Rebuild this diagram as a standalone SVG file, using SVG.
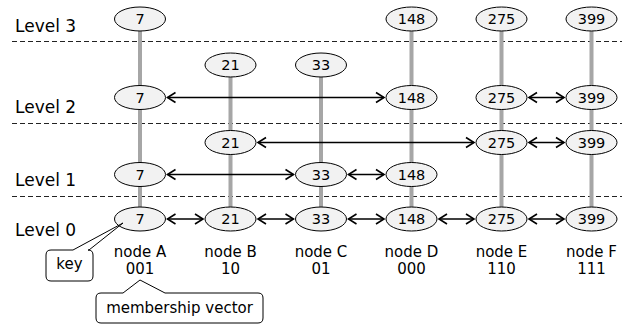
<svg xmlns="http://www.w3.org/2000/svg" width="622" height="325" viewBox="0 0 622 325">
<style>
text{font-family:"DejaVu Sans",Verdana,sans-serif;fill:#000}
.lvl{font-size:17px}
.k{font-size:14.5px;text-anchor:middle}
.lab{font-size:15px;text-anchor:middle}
ellipse{fill:#f2f2f2;stroke:#000;stroke-width:1}
.dash{stroke:#222;stroke-width:1;stroke-dasharray:5,3}
.pole{stroke:#a6a6a6;stroke-width:4}
.arr{stroke:#000;stroke-width:1.6;marker-start:url(#ah);marker-end:url(#ah)}
.call{fill:#fff;stroke:#000;stroke-width:1}
</style>
<defs>
<marker id="ah" markerUnits="userSpaceOnUse" markerWidth="12" markerHeight="12" refX="8" refY="5" orient="auto-start-reverse" overflow="visible">
<path d="M0,0 L8,5 L0,10" fill="none" stroke="#000" stroke-width="1.6"/>
</marker>
</defs>
<g id="levels">
<line class="dash" x1="12" y1="41.5" x2="622" y2="41.5"/>
<line class="dash" x1="12" y1="123.5" x2="622" y2="123.5"/>
<line class="dash" x1="12" y1="196.5" x2="622" y2="196.5"/>
<text class="lvl" x="15" y="31.5">Level 3</text>
<text class="lvl" x="15" y="112.5">Level 2</text>
<text class="lvl" x="15" y="185.5">Level 1</text>
<text class="lvl" x="15" y="235.5">Level 0</text>
</g>
<g id="poles">
<line class="pole" x1="140" y1="19" x2="140" y2="219"/>
<line class="pole" x1="230.5" y1="65" x2="230.5" y2="219"/>
<line class="pole" x1="321" y1="65" x2="321" y2="219"/>
<line class="pole" x1="411.5" y1="19" x2="411.5" y2="219"/>
<line class="pole" x1="501.5" y1="19" x2="501.5" y2="219"/>
<line class="pole" x1="591.5" y1="19" x2="591.5" y2="219"/>
</g>
<g id="connectors">
<line class="arr" x1="167.5" y1="97.5" x2="384" y2="97.5"/>
<line class="arr" x1="529" y1="97.5" x2="564" y2="97.5"/>
<line class="arr" x1="258" y1="142.5" x2="474" y2="142.5"/>
<line class="arr" x1="529" y1="142.5" x2="564" y2="142.5"/>
<line class="arr" x1="167.5" y1="174.5" x2="293.5" y2="174.5"/>
<line class="arr" x1="348.5" y1="174.5" x2="384" y2="174.5"/>
<line class="arr" x1="167.5" y1="219" x2="203" y2="219"/>
<line class="arr" x1="258" y1="219" x2="293.5" y2="219"/>
<line class="arr" x1="348.5" y1="219" x2="384" y2="219"/>
<line class="arr" x1="439" y1="219" x2="474" y2="219"/>
<line class="arr" x1="529" y1="219" x2="564" y2="219"/>
</g>
<g id="nodeA">
<ellipse cx="140" cy="19" rx="25.5" ry="12"/><text class="k" x="140" y="24">7</text>
<ellipse cx="140" cy="97.5" rx="25.5" ry="12"/><text class="k" x="140" y="102.5">7</text>
<ellipse cx="140" cy="174.5" rx="25.5" ry="12"/><text class="k" x="140" y="179.5">7</text>
<ellipse cx="140" cy="219" rx="25.5" ry="12"/><text class="k" x="140" y="224">7</text>
<text class="lab" x="140" y="257">node A</text><text class="lab" x="140" y="274">001</text>
</g>
<g id="nodeB">
<ellipse cx="230.5" cy="65" rx="25.5" ry="12"/><text class="k" x="230.5" y="70">21</text>
<ellipse cx="230.5" cy="142.5" rx="25.5" ry="12"/><text class="k" x="230.5" y="147.5">21</text>
<ellipse cx="230.5" cy="219" rx="25.5" ry="12"/><text class="k" x="230.5" y="224">21</text>
<text class="lab" x="230.5" y="257">node B</text><text class="lab" x="230.5" y="274">10</text>
</g>
<g id="nodeC">
<ellipse cx="321" cy="65" rx="25.5" ry="12"/><text class="k" x="321" y="70">33</text>
<ellipse cx="321" cy="174.5" rx="25.5" ry="12"/><text class="k" x="321" y="179.5">33</text>
<ellipse cx="321" cy="219" rx="25.5" ry="12"/><text class="k" x="321" y="224">33</text>
<text class="lab" x="321" y="257">node C</text><text class="lab" x="321" y="274">01</text>
</g>
<g id="nodeD">
<ellipse cx="411.5" cy="19" rx="25.5" ry="12"/><text class="k" x="411.5" y="24">148</text>
<ellipse cx="411.5" cy="97.5" rx="25.5" ry="12"/><text class="k" x="411.5" y="102.5">148</text>
<ellipse cx="411.5" cy="174.5" rx="25.5" ry="12"/><text class="k" x="411.5" y="179.5">148</text>
<ellipse cx="411.5" cy="219" rx="25.5" ry="12"/><text class="k" x="411.5" y="224">148</text>
<text class="lab" x="411.5" y="257">node D</text><text class="lab" x="411.5" y="274">000</text>
</g>
<g id="nodeE">
<ellipse cx="501.5" cy="19" rx="25.5" ry="12"/><text class="k" x="501.5" y="24">275</text>
<ellipse cx="501.5" cy="97.5" rx="25.5" ry="12"/><text class="k" x="501.5" y="102.5">275</text>
<ellipse cx="501.5" cy="142.5" rx="25.5" ry="12"/><text class="k" x="501.5" y="147.5">275</text>
<ellipse cx="501.5" cy="219" rx="25.5" ry="12"/><text class="k" x="501.5" y="224">275</text>
<text class="lab" x="501.5" y="257">node E</text><text class="lab" x="501.5" y="274">110</text>
</g>
<g id="nodeF">
<ellipse cx="591.5" cy="19" rx="25.5" ry="12"/><text class="k" x="591.5" y="24">399</text>
<ellipse cx="591.5" cy="97.5" rx="25.5" ry="12"/><text class="k" x="591.5" y="102.5">399</text>
<ellipse cx="591.5" cy="142.5" rx="25.5" ry="12"/><text class="k" x="591.5" y="147.5">399</text>
<ellipse cx="591.5" cy="219" rx="25.5" ry="12"/><text class="k" x="591.5" y="224">399</text>
<text class="lab" x="591.5" y="257">node F</text><text class="lab" x="591.5" y="274">111</text>
</g>
<g id="keyCallout">
<path class="call" d="M51,250 L73,250 L123,223 L89,250 L88,250 Q93,250 93,255 L93,276 Q93,281 88,281 L51,281 Q46,281 46,276 L46,255 Q46,250 51,250 Z"/>
<text class="lab" x="69.5" y="269">key</text>
</g>
<g id="mvCallout">
<path class="call" d="M101,293 L123,293 L140,280 L165,293 L258,293 Q263,293 263,298 L263,318 Q263,323 258,323 L101,323 Q96,323 96,318 L96,298 Q96,293 101,293 Z"/>
<text class="lab" x="179.5" y="313">membership vector</text>
</g>
</svg>
